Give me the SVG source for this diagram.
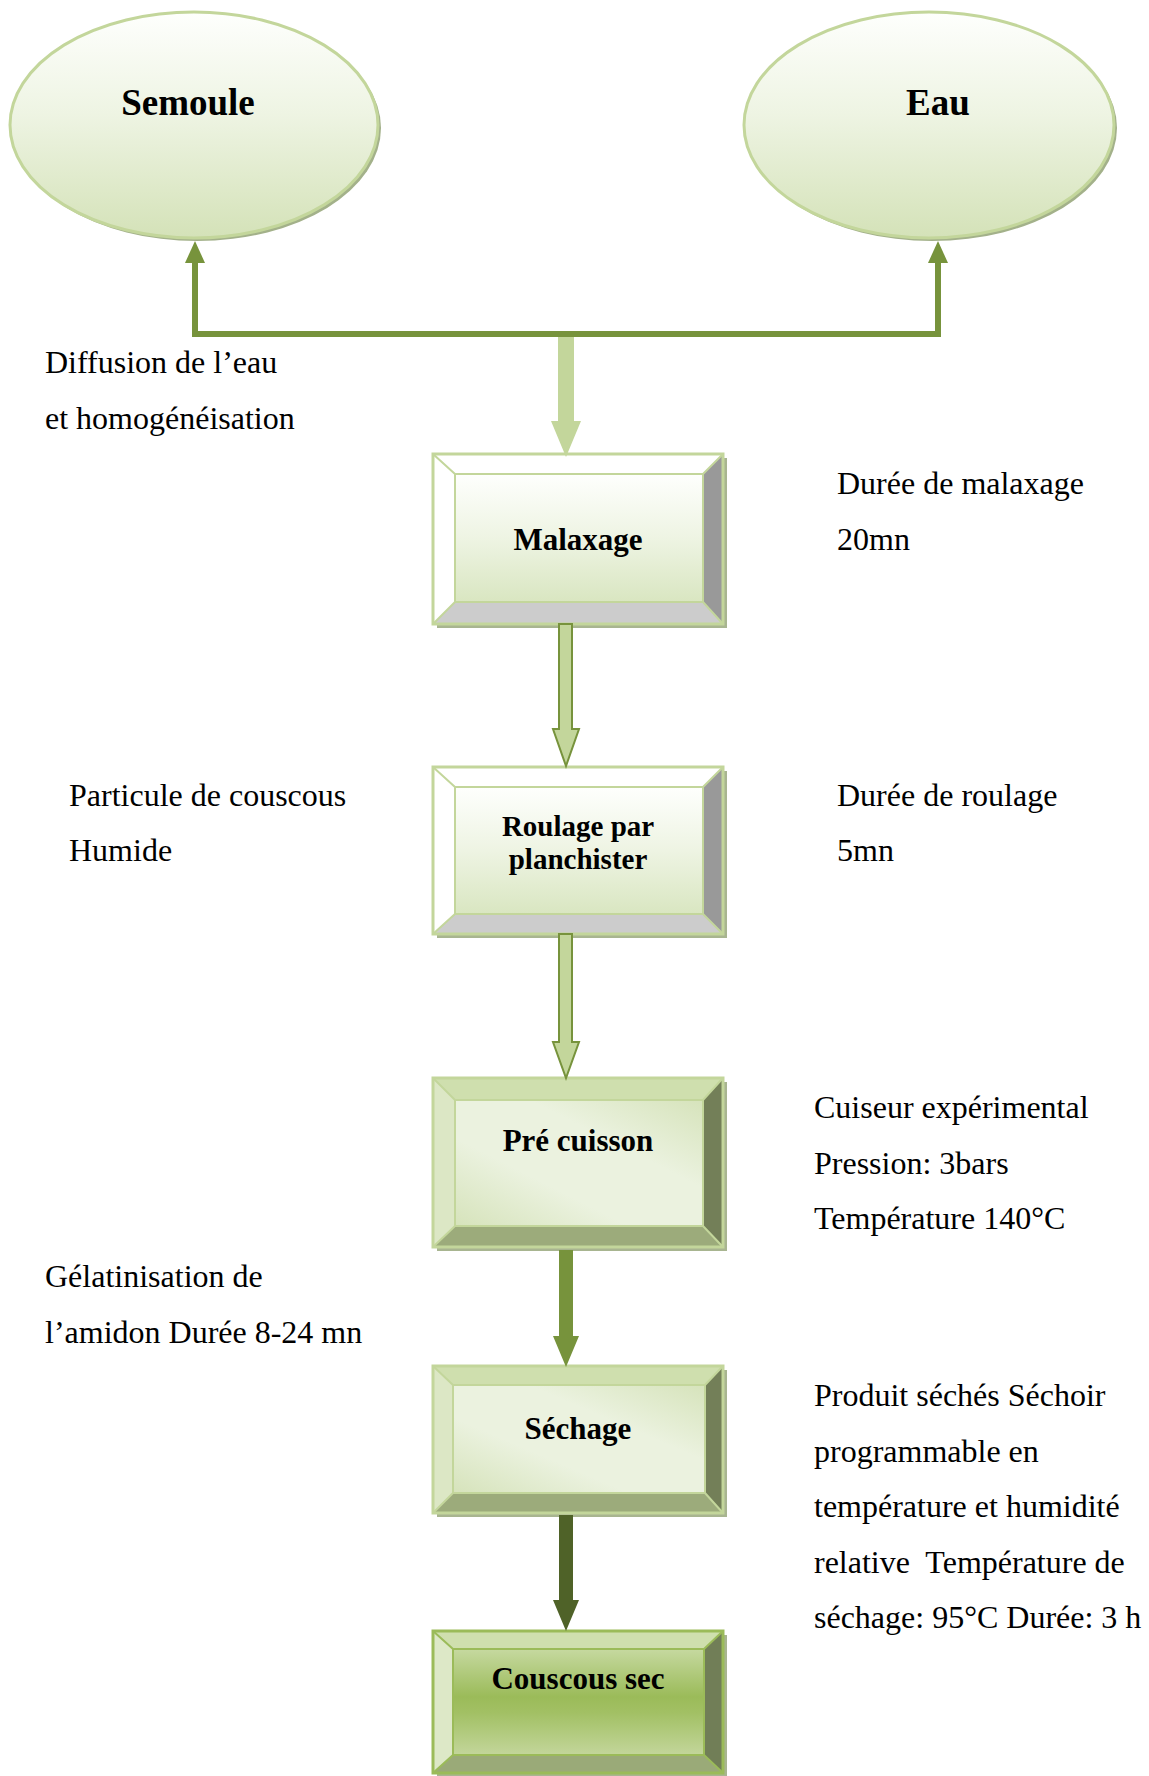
<svg xmlns="http://www.w3.org/2000/svg" width="1149" height="1776" viewBox="0 0 1149 1776">
<defs>
  <linearGradient id="gEll" x1="0" y1="0" x2="0" y2="1">
    <stop offset="0" stop-color="#fefffd"/>
    <stop offset="0.45" stop-color="#eef4e3"/>
    <stop offset="1" stop-color="#d4e2b8"/>
  </linearGradient>
  <linearGradient id="gLight" x1="0" y1="0" x2="0" y2="1">
    <stop offset="0" stop-color="#fefffd"/>
    <stop offset="0.5" stop-color="#eef4e3"/>
    <stop offset="1" stop-color="#d9e6c1"/>
  </linearGradient>
  <linearGradient id="gMid" x1="0" y1="1" x2="1" y2="0">
    <stop offset="0" stop-color="#d6e3bb"/>
    <stop offset="0.35" stop-color="#ebf2df"/>
    <stop offset="0.65" stop-color="#ebf2df"/>
    <stop offset="1" stop-color="#d6e3bb"/>
  </linearGradient>
  <linearGradient id="gDark" x1="0" y1="0" x2="0" y2="1">
    <stop offset="0" stop-color="#c6d9a0"/>
    <stop offset="0.45" stop-color="#9bbb59"/>
    <stop offset="0.6" stop-color="#a2c064"/>
    <stop offset="1" stop-color="#c3d69b"/>
  </linearGradient>
  <marker id="ah" viewBox="0 0 22 20" refX="0" refY="10" markerWidth="22" markerHeight="20" markerUnits="userSpaceOnUse" orient="auto-start-reverse">
    <path d="M0,0 L22,10 L0,20 Z" fill="#77933c"/>
  </marker>
  <style>
    .lbl{font-family:"Liberation Serif","Times New Roman",serif;font-weight:bold;fill:#000;text-anchor:middle}
    .side{font-family:"Liberation Serif","Times New Roman",serif;font-size:32px;fill:#000}
    .ell{fill:url(#gEll);stroke:#c3d69b;stroke-width:3}
    .shadow{fill:#a3b18a}
    .edge{fill:none;stroke:#c3d69b;stroke-width:2}
    .outer{fill:none;stroke:#c3d69b;stroke-width:3}
  </style>
</defs>
<rect width="1149" height="1776" fill="#fff"/>

<g id="node-semoule">
  <ellipse class="shadow" cx="197" cy="128" rx="184" ry="113"/>
  <ellipse class="ell" cx="194" cy="125" rx="184" ry="113"/>
  <text class="lbl" x="188" y="115" font-size="37">Semoule</text>
</g>
<g id="node-eau">
  <ellipse class="shadow" cx="932" cy="128" rx="185" ry="113"/>
  <ellipse class="ell" cx="929" cy="125" rx="185" ry="113"/>
  <text class="lbl" x="938" y="115" font-size="37">Eau</text>
</g>

<g id="node-malaxage">
  <rect x="437" y="458" width="290" height="170" fill="#a8b590"/>
  <polygon points="433,454 723,454 703,474 455,474" fill="#ffffff"/>
  <polygon points="433,454 455,474 455,602 433,624" fill="#ffffff"/>
  <polygon points="723,454 723,624 703,602 703,474" fill="#999999"/>
  <polygon points="433,624 455,602 703,602 723,624" fill="#cccccc"/>
  <rect x="455" y="474" width="248" height="128" fill="url(#gLight)"/>
  <path class="edge" d="M433,454 L455,474 M723,454 L703,474 M433,624 L455,602 M723,624 L703,602"/>
  <rect class="edge" x="455" y="474" width="248" height="128"/>
  <rect class="outer" x="433" y="454" width="290" height="170"/>
  <text class="lbl" x="578" y="550" font-size="31">Malaxage</text>
</g>

<g id="node-roulage">
  <rect x="437" y="771" width="290" height="167" fill="#a8b590"/>
  <polygon points="433,767 723,767 703,787 455,787" fill="#ffffff"/>
  <polygon points="433,767 455,787 455,914 433,934" fill="#ffffff"/>
  <polygon points="723,767 723,934 703,914 703,787" fill="#999999"/>
  <polygon points="433,934 455,914 703,914 723,934" fill="#cccccc"/>
  <rect x="455" y="787" width="248" height="127" fill="url(#gLight)"/>
  <path class="edge" d="M433,767 L455,787 M723,767 L703,787 M433,934 L455,914 M723,934 L703,914"/>
  <rect class="edge" x="455" y="787" width="248" height="127"/>
  <rect class="outer" x="433" y="767" width="290" height="167"/>
  <text class="lbl" x="578" y="836" font-size="29">Roulage par</text>
  <text class="lbl" x="578" y="869" font-size="29">planchister</text>
</g>

<g id="node-precuisson">
  <rect x="437" y="1082" width="290" height="169" fill="#a8b590"/>
  <polygon points="433,1078 723,1078 703,1100 455,1100" fill="#cfdfae"/>
  <polygon points="433,1078 455,1100 455,1226 433,1247" fill="#dce7c5"/>
  <polygon points="723,1078 723,1247 703,1226 703,1100" fill="#737f58"/>
  <polygon points="433,1247 455,1226 703,1226 723,1247" fill="#9cab7b"/>
  <rect x="455" y="1100" width="248" height="126" fill="url(#gMid)"/>
  <path class="edge" d="M433,1078 L455,1100 M723,1078 L703,1100 M433,1247 L455,1226 M723,1247 L703,1226"/>
  <rect class="edge" x="455" y="1100" width="248" height="126"/>
  <rect class="outer" x="433" y="1078" width="290" height="169"/>
  <text class="lbl" x="578" y="1151" font-size="31">Pré cuisson</text>
</g>

<g id="node-sechage">
  <rect x="437" y="1370" width="290" height="147" fill="#a8b590"/>
  <polygon points="433,1366 723,1366 705,1385 453,1385" fill="#cfdfae"/>
  <polygon points="433,1366 453,1385 453,1493 433,1513" fill="#dce7c5"/>
  <polygon points="723,1366 723,1513 705,1493 705,1385" fill="#737f58"/>
  <polygon points="433,1513 453,1493 705,1493 723,1513" fill="#9cab7b"/>
  <rect x="453" y="1385" width="252" height="108" fill="url(#gMid)"/>
  <path class="edge" d="M433,1366 L453,1385 M723,1366 L705,1385 M433,1513 L453,1493 M723,1513 L705,1493"/>
  <rect class="edge" x="453" y="1385" width="252" height="108"/>
  <rect class="outer" x="433" y="1366" width="290" height="147"/>
  <text class="lbl" x="578" y="1439" font-size="31">Séchage</text>
</g>

<g id="node-couscous">
  <rect x="437" y="1635" width="290" height="142" fill="#a8b590"/>
  <polygon points="433,1631 723,1631 704,1649 453,1649" fill="#cfdfae"/>
  <polygon points="433,1631 453,1649 453,1755 433,1773" fill="#dde8c7"/>
  <polygon points="723,1631 723,1773 704,1755 704,1649" fill="#717e57"/>
  <polygon points="433,1773 453,1755 704,1755 723,1773" fill="#9aaa78"/>
  <rect x="453" y="1649" width="251" height="106" fill="url(#gDark)"/>
  <path d="M433,1631 L453,1649 M723,1631 L704,1649 M433,1773 L453,1755 M723,1773 L704,1755" fill="none" stroke="#9bbb59" stroke-width="2"/>
  <rect x="453" y="1649" width="251" height="106" fill="none" stroke="#9bbb59" stroke-width="2"/>
  <rect x="433" y="1631" width="290" height="142" fill="none" stroke="#9bbb59" stroke-width="3"/>
  <text class="lbl" x="578" y="1689" font-size="31">Couscous sec</text>
</g>

<g id="connectors">
  <polyline points="195,263 195,334 938,334 938,263" fill="none" stroke="#77933c" stroke-width="6" marker-start="url(#ah)" marker-end="url(#ah)"/>
  <polygon points="558,337 574,337 574,421 581,421 566,457 551,421 558,421" fill="#c3d69b"/>
  <polygon points="559,624 572,624 572,729 579,729 566,766 553,729 559,729" fill="#c3d69b" stroke="#77933c" stroke-width="2" stroke-linejoin="miter"/>
  <polygon points="559,934 572,934 572,1042 579,1042 566,1078 553,1042 559,1042" fill="#c3d69b" stroke="#77933c" stroke-width="2" stroke-linejoin="miter"/>
  <polygon points="559,1250 573,1250 573,1336 579,1336 566,1367 553,1336 559,1336" fill="#77933c"/>
  <polygon points="559,1515 573,1515 573,1600 579,1600 566,1631 553,1600 559,1600" fill="#4f6228"/>
</g>

<g id="annotations">
  <text class="side" x="45" y="373">Diffusion de l’eau</text>
  <text class="side" x="45" y="429">et homogénéisation</text>
  <text class="side" x="837" y="494">Durée de malaxage</text>
  <text class="side" x="837" y="550">20mn</text>
  <text class="side" x="69" y="806">Particule de couscous</text>
  <text class="side" x="69" y="861">Humide</text>
  <text class="side" x="837" y="806">Durée de roulage</text>
  <text class="side" x="837" y="861">5mn</text>
  <text class="side" x="814" y="1118">Cuiseur expérimental</text>
  <text class="side" x="814" y="1174">Pression: 3bars</text>
  <text class="side" x="814" y="1229">Température 140°C</text>
  <text class="side" x="45" y="1287">Gélatinisation de</text>
  <text class="side" x="45" y="1343">l’amidon Durée 8-24 mn</text>
  <text class="side" x="814" y="1406">Produit séchés Séchoir</text>
  <text class="side" x="814" y="1462">programmable en</text>
  <text class="side" x="814" y="1517">température et humidité</text>
  <text class="side" x="814" y="1573" xml:space="preserve">relative  Température de</text>
  <text class="side" x="814" y="1628">séchage: 95°C Durée: 3 h</text>
</g>
</svg>
